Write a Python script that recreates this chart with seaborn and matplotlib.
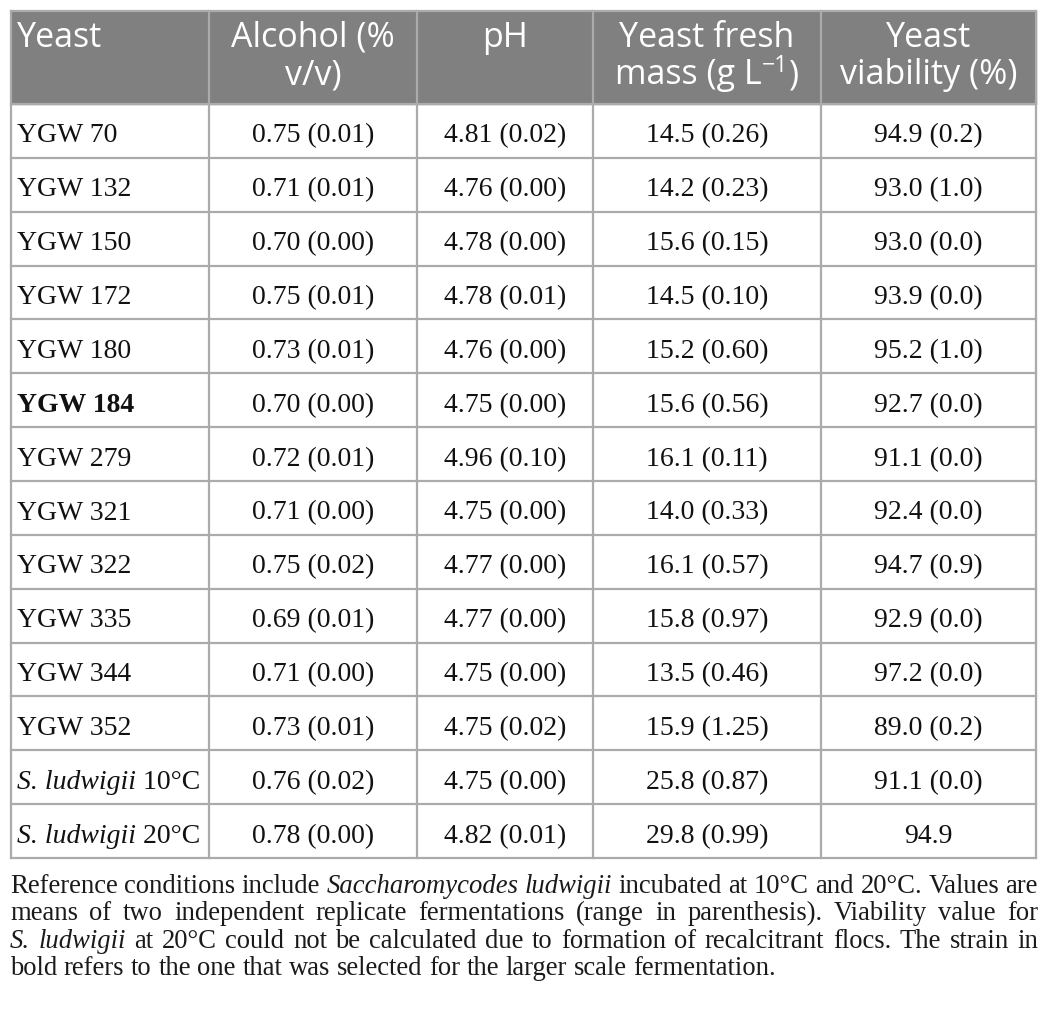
import numpy as np
import matplotlib
matplotlib.use("Agg")
import matplotlib.pyplot as plt
import seaborn as sns

# ---- table data ----
strains = ["YGW 70", "YGW 132", "YGW 150", "YGW 172", "YGW 180", "YGW 184", "YGW 279",
           "YGW 321", "YGW 322", "YGW 335", "YGW 344", "YGW 352", "S. ludwigii", "S. ludwigii"]
strain_suffix = ["", "", "", "", "", "", "", "", "", "", "", "", " 10°C", " 20°C"]
bold_strain = "YGW 184"
alcohol = [0.75, 0.71, 0.70, 0.75, 0.73, 0.70, 0.72, 0.71, 0.75, 0.69, 0.71, 0.73, 0.76, 0.78]
alcohol_rng = [0.01, 0.01, 0.00, 0.01, 0.01, 0.00, 0.01, 0.00, 0.02, 0.01, 0.00, 0.01, 0.02, 0.00]
ph = [4.81, 4.76, 4.78, 4.78, 4.76, 4.75, 4.96, 4.75, 4.77, 4.77, 4.75, 4.75, 4.75, 4.82]
ph_rng = [0.02, 0.00, 0.00, 0.01, 0.00, 0.00, 0.10, 0.00, 0.00, 0.00, 0.00, 0.02, 0.00, 0.01]
mass = [14.5, 14.2, 15.6, 14.5, 15.2, 15.6, 16.1, 14.0, 16.1, 15.8, 13.5, 15.9, 25.8, 29.8]
mass_rng = [0.26, 0.23, 0.15, 0.10, 0.60, 0.56, 0.11, 0.33, 0.57, 0.97, 0.46, 1.25, 0.87, 0.99]
viab = [94.9, 93.0, 93.0, 93.9, 95.2, 92.7, 91.1, 92.4, 94.7, 92.9, 97.2, 89.0, 91.1, 94.9]
viab_rng = [0.2, 1.0, 0.0, 0.0, 1.0, 0.0, 0.0, 0.0, 0.9, 0.0, 0.0, 0.2, 0.0, None]

# header lines: each line is a list of (text, is_superscript)
headers = [
    [[("Yeast", False)]],
    [[("Alcohol (%", False)], [("v/v)", False)]],
    [[("pH", False)]],
    [[("Yeast fresh", False)], [("mass (g L", False), ("\u22121", True), (")", False)]],
    [[("Yeast", False)], [("viability (%)", False)]],
]

caption_lines = [
    [("Reference conditions include", "normal"), ("Saccharomycodes ludwigii", "italic"),
     ("incubated at 10°C and 20°C. Values are", "normal")],
    [("means of two independent replicate fermentations (range in parenthesis). Viability value for", "normal")],
    [("S. ludwigii", "italic"),
     ("at 20°C could not be calculated due to formation of recalcitrant flocs. The strain in", "normal")],
    [("bold refers to the one that was selected for the larger scale fermentation.", "normal")],
]

# ---- layout (pixels) ----
col_edges = [11, 209, 417, 593, 821, 1036]
head_top, head_bot = 11, 104
row_h = (858 - head_bot) / len(strains)
grid_col = "#ababab"
head_col = "#808080"

sns.set_theme(style="white")

fig = plt.figure(figsize=(10.5, 10.29), dpi=100)
ax = fig.add_axes([0, 0, 1, 1])
ax.set_xlim(0, 1050)
ax.set_ylim(1029, 0)
ax.axis("off")
renderer = fig.canvas.get_renderer()

serif = "Liberation Serif"
sans = ["Open Sans", "DejaVu Sans"]
head_size = 24.5

# header background
ax.add_patch(plt.Rectangle((col_edges[0], head_top), col_edges[-1] - col_edges[0],
                           head_bot - head_top, color=head_col, zorder=0))

# header text
for j, lines in enumerate(headers):
    for k, parts in enumerate(lines):
        yb = 47 + 37 * k
        arts = []
        for txt, sup in parts:
            a = ax.text(0, yb - (12 if sup else 0), txt, ha="left", va="baseline",
                        color="white", fontsize=head_size * (0.68 if sup else 1.0), family=sans)
            arts.append(a)
        widths = [a.get_window_extent(renderer).width for a in arts]
        if j == 0:
            x = col_edges[0] + 6
        else:
            x = (col_edges[j] + col_edges[j + 1]) / 2 - sum(widths) / 2
        for a, w in zip(arts, widths):
            a.set_x(x)
            x += w

# body text
cols = [
    [f"{a:.2f} ({r:.2f})" for a, r in zip(alcohol, alcohol_rng)],
    [f"{a:.2f} ({r:.2f})" for a, r in zip(ph, ph_rng)],
    [f"{a:.1f} ({r:.2f})" for a, r in zip(mass, mass_rng)],
    [f"{a:.1f}" if r is None else f"{a:.1f} ({r:.1f})" for a, r in zip(viab, viab_rng)],
]
for i, name in enumerate(strains):
    yb = head_bot + i * row_h + 38.5
    x0 = col_edges[0] + 6
    if strain_suffix[i]:
        t = ax.text(x0, yb, name, ha="left", va="baseline", fontsize=20, family=serif,
                    style="italic", color="#111111")
        w = t.get_window_extent(renderer).width
        ax.text(x0 + w, yb, strain_suffix[i], ha="left", va="baseline", fontsize=20,
                family=serif, color="#111111")
    else:
        ax.text(x0, yb, name, ha="left", va="baseline", fontsize=20, family=serif,
                weight="bold" if name == bold_strain else "normal", color="#111111")
    for j, vals in enumerate(cols):
        xc = (col_edges[j + 1] + col_edges[j + 2]) / 2
        ax.text(xc, yb, vals[i], ha="center", va="baseline", fontsize=20, family=serif,
                color="#111111")

# grid lines
ys = [head_top, head_bot] + [head_bot + (i + 1) * row_h for i in range(len(strains))]
for y in ys:
    ax.plot([col_edges[0], col_edges[-1]], [y, y], color=grid_col, lw=1.6,
            solid_capstyle="projecting")
for x in col_edges:
    ax.plot([x, x], [head_top, ys[-1]], color=grid_col, lw=1.6, solid_capstyle="projecting")

# caption, justified
cap_left, cap_right = 10, 1038
cap_size = 19.2
t1 = ax.text(0, 0, "a a", fontsize=cap_size, family=serif)
t2 = ax.text(0, 0, "aa", fontsize=cap_size, family=serif)
space_w = t1.get_window_extent(renderer).width - t2.get_window_extent(renderer).width
t1.remove()
t2.remove()

for li, segs in enumerate(caption_lines):
    words = []
    for seg, st in segs:
        for wd in seg.split(" "):
            words.append((wd, st))
    yb = 893 + 27.3 * li
    arts = [ax.text(0, yb, wd, ha="left", va="baseline", fontsize=cap_size, family=serif,
                    style=st, color="#1a1a1a") for wd, st in words]
    widths = [a.get_window_extent(renderer).width for a in arts]
    if li < len(caption_lines) - 1:
        gap = (cap_right - cap_left - sum(widths)) / (len(words) - 1)
    else:
        gap = space_w
    x = cap_left
    for a, w in zip(arts, widths):
        a.set_x(x)
        x += w + gap

fig.savefig("out.png", dpi=100, facecolor="white")
